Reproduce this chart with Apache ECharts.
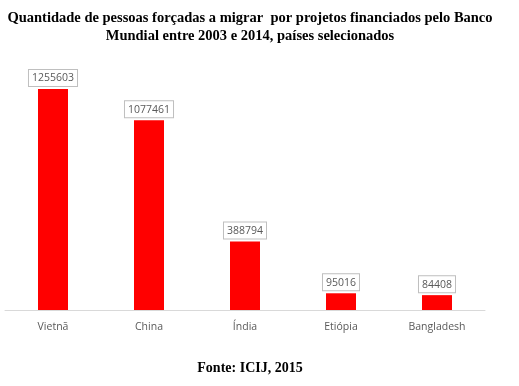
<!DOCTYPE html>
<html>
<head>
<meta charset="utf-8">
<script src="https://cdn.jsdelivr.net/npm/echarts@6/dist/echarts.min.js"></script>
<style>html,body{margin:0;padding:0;background:#fff;}#c{width:519px;height:386px;}</style>
</head>
<body>
<div id="c"></div>
<script>
const categories = ['Vietnã', 'China', 'Índia', 'Etiópia', 'Bangladesh'];
const values = [1255603, 1077461, 388794, 95016, 84408];
const titleText = 'Quantidade de pessoas forçadas a migrar  por projetos financiados pelo Banco\nMundial entre 2003 e 2014, países selecionados';
const footerText = 'Fonte: ICIJ, 2015';

const chart = echarts.init(document.getElementById('c'), null, {renderer: 'canvas'});
chart.setOption({
  backgroundColor: '#ffffff',
  animation: false,
  title: [{
    text: titleText,
    left: 245, top: 4, textAlign: 'center',
    textStyle: {fontFamily: 'Liberation Serif', fontWeight: 'bold', fontSize: 14.5, lineHeight: 18, color: '#000'}
  }, {
    text: footerText,
    left: 245, top: 356, textAlign: 'center',
    textStyle: {fontFamily: 'Liberation Serif', fontWeight: 'bold', fontSize: 14, color: '#000'}
  }],
  grid: {left: 5, right: 34, top: 63.6, bottom: 76},
  xAxis: {
    type: 'category',
    data: categories,
    axisLine: {lineStyle: {color: '#d9d9d9', width: 1}},
    axisTick: {show: false},
    axisLabel: {margin: 12, fontFamily: 'Open Sans', fontSize: 10.5, color: '#595959'}
  },
  yAxis: {type: 'value', min: 0, max: 1400000, show: false, splitLine: {show: false}},
  series: [{
    type: 'bar',
    data: values,
    barWidth: 30,
    itemStyle: {color: '#ff0000'},
    label: {
      show: true, position: 'top', distance: 3,
      fontFamily: 'Open Sans', fontSize: 10.5, color: '#595959',
      backgroundColor: '#fff', borderColor: '#bfbfbf', borderWidth: 1,
      padding: [3, 3, 2, 3]
    }
  }]
});
</script>
</body>
</html>
